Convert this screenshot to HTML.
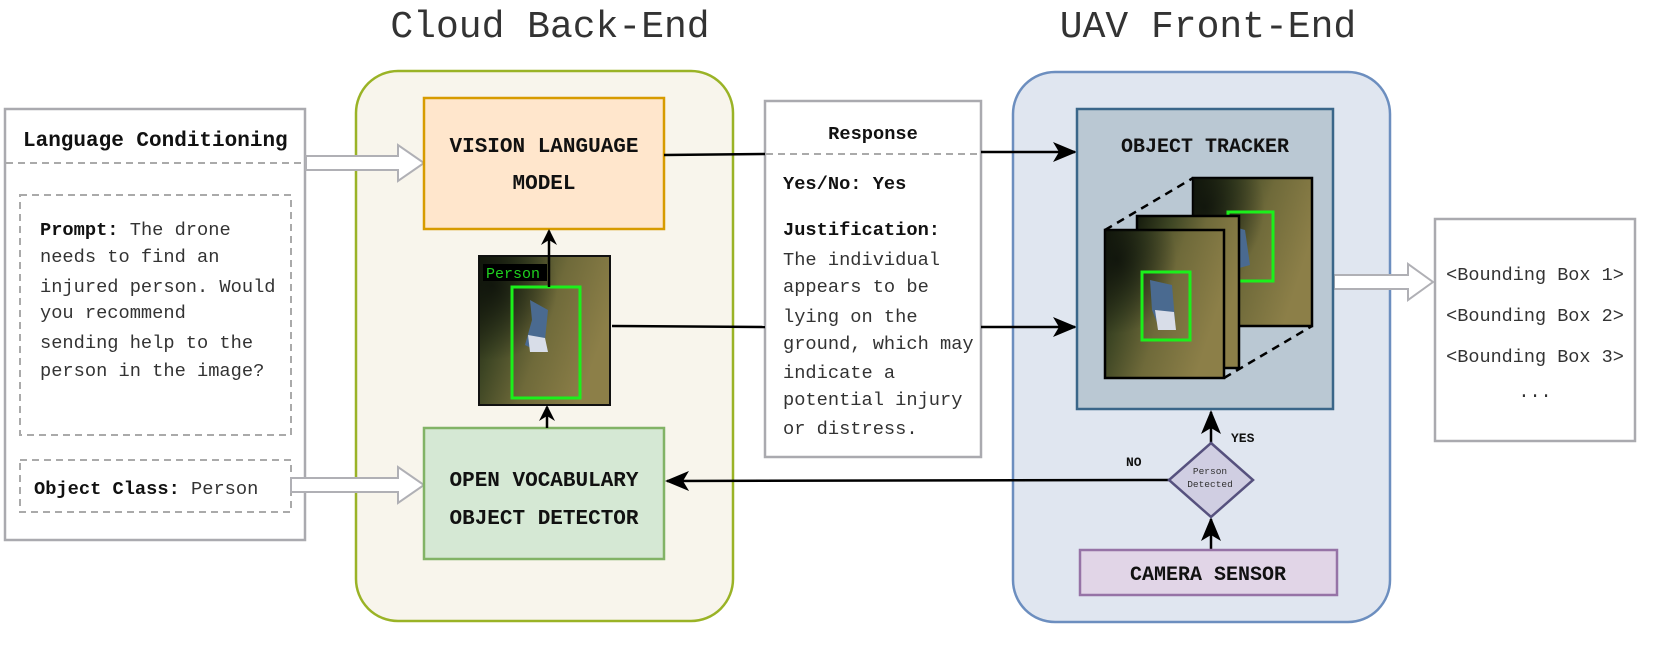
<!DOCTYPE html>
<html><head><meta charset="utf-8"><style>
html,body{margin:0;padding:0;background:#fff;width:1661px;height:649px;overflow:hidden}
svg{display:block}
text{font-family:"Liberation Mono","Courier New",monospace;fill:#333}
.b{font-weight:bold;fill:#111}
</style></head><body>
<svg width="1661" height="649" viewBox="0 0 1661 649" xmlns="http://www.w3.org/2000/svg">
<defs>
<linearGradient id="g1" x1="0" y1="0" x2="1" y2="0.4">
<stop offset="0" stop-color="#141a0c"/><stop offset="0.3" stop-color="#3e4624"/><stop offset="0.6" stop-color="#6f6a3a"/><stop offset="1" stop-color="#8c7f48"/>
</linearGradient>
<radialGradient id="g2" cx="0.1" cy="0.2" r="0.5"><stop offset="0" stop-color="#0c100a" stop-opacity="0.8"/><stop offset="1" stop-color="#0c100a" stop-opacity="0"/></radialGradient>
<marker id="ah" markerWidth="16" markerHeight="16" refX="14" refY="8" orient="auto" markerUnits="userSpaceOnUse"><path d="M0,0 L16,8 L0,16 L5,8 z" fill="#000"/></marker>
<marker id="ahb" markerWidth="24" markerHeight="20" refX="22" refY="10" orient="auto" markerUnits="userSpaceOnUse"><path d="M0,0 L24,10 L0,20 L6,10 z" fill="#000"/></marker>
</defs>

<text x="550" y="37" font-size="38" text-anchor="middle">Cloud Back-End</text>
<text x="1208" y="37" font-size="38" text-anchor="middle">UAV Front-End</text>

<rect x="356" y="71" width="377" height="550" rx="42" fill="#f8f5ec" stroke="#9ab326" stroke-width="2.5"/>
<rect x="1013" y="72" width="377" height="550" rx="42" fill="#e0e6f0" stroke="#6c8ebf" stroke-width="2.5"/>

<rect x="5" y="109" width="300" height="431" fill="#fff" stroke="#aaaaaf" stroke-width="2.5"/>
<text class="b" x="23" y="146" font-size="21">Language Conditioning</text>
<line x1="6" y1="163" x2="304" y2="163" stroke="#aaa" stroke-width="2" stroke-dasharray="7,5"/>
<rect x="20" y="195" width="271" height="240" fill="none" stroke="#aaa" stroke-width="2" stroke-dasharray="7,5"/>
<g font-size="18.7">
<text x="40" y="235"><tspan class="b">Prompt:</tspan> The drone</text>
<text x="40" y="262">needs to find an</text>
<text x="40" y="292">injured person. Would</text>
<text x="40" y="318">you recommend</text>
<text x="40" y="348">sending help to the</text>
<text x="40" y="376">person in the image?</text>
</g>
<rect x="20" y="460" width="271" height="52" fill="none" stroke="#aaa" stroke-width="2" stroke-dasharray="7,5"/>
<text x="34" y="494" font-size="18.7"><tspan class="b">Object Class:</tspan> Person</text>

<path d="M306,156 L398,156 L398,145 L424,163 L398,181 L398,170 L306,170 z" fill="#fff" stroke="#b0b0b5" stroke-width="2"/>
<path d="M291,478 L398,478 L398,467 L424,485 L398,503 L398,492 L291,492 z" fill="#fff" stroke="#b0b0b5" stroke-width="2"/>
<path d="M1334,275 L1408,275 L1408,264 L1433,282 L1408,300 L1408,289 L1334,289 z" fill="#fff" stroke="#b0b0b5" stroke-width="2"/>

<rect x="424" y="98" width="240" height="131" fill="#ffe6cc" stroke="#d79b00" stroke-width="2.5"/>
<text class="b" x="544" y="152" font-size="21" text-anchor="middle">VISION LANGUAGE</text>
<text class="b" x="544" y="189" font-size="21" text-anchor="middle">MODEL</text>

<rect x="424" y="428" width="240" height="131" fill="#d5e8d4" stroke="#82b366" stroke-width="2.5"/>
<text class="b" x="544" y="486" font-size="21" text-anchor="middle">OPEN VOCABULARY</text>
<text class="b" x="544" y="524" font-size="21" text-anchor="middle">OBJECT DETECTOR</text>

<rect x="479" y="256" width="131" height="149" fill="url(#g1)" stroke="#111" stroke-width="2"/>
<rect x="479" y="256" width="131" height="149" fill="url(#g2)"/>
<rect x="483" y="264" width="64" height="17" fill="#000"/>
<text x="486" y="278" font-size="15" style="fill:#1fd01f">Person</text>
<path d="M530,300 L548,310 L545,340 L535,350 L525,345 L532,320 z" fill="#4a6a90"/>
<path d="M528,335 L545,338 L548,352 L530,352 z" fill="#d8dde8"/>
<rect x="512" y="287" width="68" height="111" fill="none" stroke="#1bf01b" stroke-width="3"/>
<line x1="549" y1="287" x2="549" y2="231" stroke="#000" stroke-width="2.5" marker-end="url(#ah)"/>
<line x1="547" y1="428" x2="547" y2="407" stroke="#000" stroke-width="2.5" marker-end="url(#ah)"/>

<rect x="765" y="101" width="216" height="356" fill="#fff" stroke="#aaaaaf" stroke-width="2.5"/>
<text class="b" x="873" y="139" font-size="18.7" text-anchor="middle">Response</text>
<line x1="766" y1="154" x2="980" y2="154" stroke="#aaa" stroke-width="2" stroke-dasharray="7,5"/>
<g font-size="18.7">
<text class="b" x="783" y="189">Yes/No: Yes</text>
<text class="b" x="783" y="235">Justification:</text>
<text x="783" y="265">The individual</text>
<text x="783" y="292">appears to be</text>
<text x="783" y="322">lying on the</text>
<text x="783" y="349">ground, which may</text>
<text x="783" y="378">indicate a</text>
<text x="783" y="405">potential injury</text>
<text x="783" y="434">or distress.</text>
</g>
<line x1="664" y1="155" x2="765" y2="154" stroke="#000" stroke-width="2.5"/>
<line x1="612" y1="326" x2="765" y2="327" stroke="#000" stroke-width="2.5"/>
<line x1="981" y1="152" x2="1075" y2="152" stroke="#000" stroke-width="2.5" marker-end="url(#ahb)"/>
<line x1="981" y1="327" x2="1075" y2="327" stroke="#000" stroke-width="2.5" marker-end="url(#ahb)"/>

<rect x="1077" y="109" width="256" height="300" fill="#bac8d3" stroke="#3a6689" stroke-width="2.5"/>
<text class="b" x="1205" y="152" font-size="20" text-anchor="middle">OBJECT TRACKER</text>
<g stroke="#000" stroke-width="2.5" stroke-dasharray="8,6">
<line x1="1105" y1="230" x2="1193" y2="178"/>
<line x1="1224" y1="378" x2="1312" y2="326"/>
<line x1="1244" y1="206" x2="1312" y2="178"/>
</g>
<rect x="1193" y="178" width="119" height="148" fill="url(#g1)" stroke="#000" stroke-width="2.5"/>
<rect x="1193" y="178" width="119" height="148" fill="url(#g2)"/>
<path d="M1228,225 L1245,230 L1250,265 L1232,270 z" fill="#4a6a90"/>
<rect x="1228" y="212" width="45" height="69" fill="none" stroke="#1bf01b" stroke-width="3"/>
<rect x="1137" y="216" width="102" height="152" fill="url(#g1)" stroke="#000" stroke-width="2.5"/>
<rect x="1105" y="230" width="119" height="148" fill="url(#g1)" stroke="#000" stroke-width="2.5"/>
<rect x="1105" y="230" width="119" height="148" fill="url(#g2)"/>
<path d="M1150,280 L1172,285 L1175,320 L1160,330 L1152,310 z" fill="#4a6a90"/>
<path d="M1155,310 L1174,312 L1176,330 L1158,330 z" fill="#d8dde8"/>
<rect x="1142" y="272" width="48" height="68" fill="none" stroke="#1bf01b" stroke-width="3"/>

<rect x="1435" y="219" width="200" height="222" fill="#fff" stroke="#aaaaaf" stroke-width="2.5"/>
<g font-size="18.5" text-anchor="middle">
<text x="1535" y="280">&lt;Bounding Box 1&gt;</text>
<text x="1535" y="321">&lt;Bounding Box 2&gt;</text>
<text x="1535" y="362">&lt;Bounding Box 3&gt;</text>
<text x="1535" y="397">...</text>
</g>

<line x1="1211" y1="443" x2="1211" y2="412" stroke="#000" stroke-width="2.5" marker-end="url(#ahb)"/>
<line x1="1211" y1="550" x2="1211" y2="519" stroke="#000" stroke-width="2.5" marker-end="url(#ahb)"/>
<line x1="1169" y1="480" x2="667" y2="481" stroke="#000" stroke-width="2.5" marker-end="url(#ahb)"/>
<path d="M1211,443 L1253,480 L1211,517 L1169,480 z" fill="#d0cee2" stroke="#56517e" stroke-width="2.5"/>
<text x="1210" y="474" font-size="9.5" text-anchor="middle">Person</text>
<text x="1210" y="487" font-size="9.5" text-anchor="middle">Detected</text>
<text class="b" x="1231" y="442" font-size="13">YES</text>
<text class="b" x="1126" y="466" font-size="13">NO</text>

<rect x="1080" y="550" width="257" height="45" fill="#e1d5e7" stroke="#9673a6" stroke-width="2.5"/>
<text class="b" x="1208" y="580" font-size="20" text-anchor="middle">CAMERA SENSOR</text>
</svg>
</body></html>
